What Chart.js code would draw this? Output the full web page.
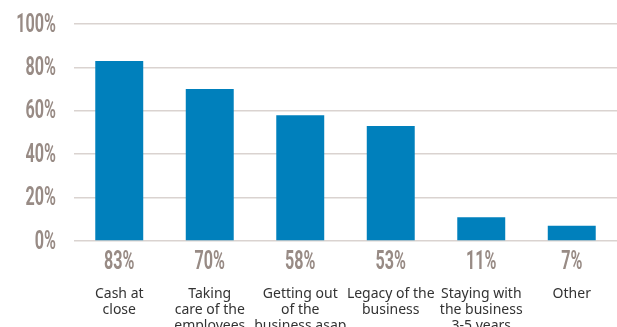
<!DOCTYPE html>
<html>
<head>
<meta charset="utf-8">
<script src="https://cdn.jsdelivr.net/npm/chart.js@4.4.1/dist/chart.umd.min.js"></script>
<style>
  html, body { margin: 0; padding: 0; background: #ffffff; overflow: hidden; }
  #c { display: block; }
</style>
</head>
<body>
<canvas id="c" width="617" height="327"></canvas>
<script>
// Survey priorities: share of respondents per answer
const categories = [
  ["Cash at", "close"],
  ["Taking", "care of the", "employees"],
  ["Getting out", "of the", "business asap"],
  ["Legacy of the", "business"],
  ["Staying with", "the business", "3-5 years"],
  ["Other"]
];
const shares = [83, 70, 58, 53, 11, 7];
const yTicks = [0, 20, 40, 60, 80, 100];

const barBlue = "#0080bc";
const taupe = "#988b85";
const gridTone = "#dad3d0";
const figureFont = "bold 26px Roboto, 'Liberation Sans', sans-serif";
const squeeze = 0.62;   // horizontal compression for the tall, narrow figures

// draws condensed text: scale x only, keep the anchor point fixed
function narrowText(ctx, text, x, y, align) {
  ctx.save();
  ctx.translate(x, y);
  ctx.scale(squeeze, 1);
  ctx.textAlign = align;
  ctx.fillText(text, 0, 0);
  ctx.restore();
}

// axis figures on the left and the percentage printed under each bar
const figures = {
  id: "figures",
  afterDraw(chart) {
    const { ctx } = chart;
    const y = chart.scales.y;
    const base = y.getPixelForValue(0);
    ctx.save();
    ctx.font = figureFont;
    ctx.fillStyle = taupe;
    ctx.textBaseline = "middle";
    y.ticks.forEach(t => {
      narrowText(ctx, t.value + "%", y.right - 18, y.getPixelForValue(t.value) + 1, "right");
    });
    chart.getDatasetMeta(0).data.forEach((bar, i) => {
      narrowText(ctx, shares[i] + "%", bar.x, base + 21, "center");
    });
    ctx.restore();
  }
};

new Chart(document.getElementById("c"), {
  type: "bar",
  data: {
    labels: categories,
    datasets: [{
      data: shares,
      backgroundColor: barBlue,
      borderWidth: 0,
      categoryPercentage: 1,
      barPercentage: 0.53
    }]
  },
  options: {
    responsive: false,
    animation: false,
    layout: { padding: { top: 24, right: 0, left: 0, bottom: 0 } },
    plugins: {
      legend: { display: false },
      tooltip: { enabled: false }
    },
    scales: {
      y: {
        min: 0,
        max: 100,
        afterFit(scale) { scale.width = 74; },
        afterBuildTicks(scale) { scale.ticks = yTicks.map(v => ({ value: v })); },
        border: { display: false },
        grid: { color: gridTone, lineWidth: 1.5, drawTicks: false },
        ticks: { display: false }
      },
      x: {
        // the label gap would otherwise be reserved at both ends of the axis
        afterFit(scale) {
          scale.height = 86;
          scale.paddingLeft = 0;
          scale.paddingRight = 0;
        },
        border: { display: false },
        grid: { display: false },
        ticks: {
          padding: 37,
          color: "#333333",
          maxRotation: 0,
          autoSkip: false,
          font: { family: "'Noto Sans', sans-serif", size: 14, lineHeight: 1.15 }
        }
      }
    }
  },
  plugins: [figures]
});
</script>
</body>
</html>
